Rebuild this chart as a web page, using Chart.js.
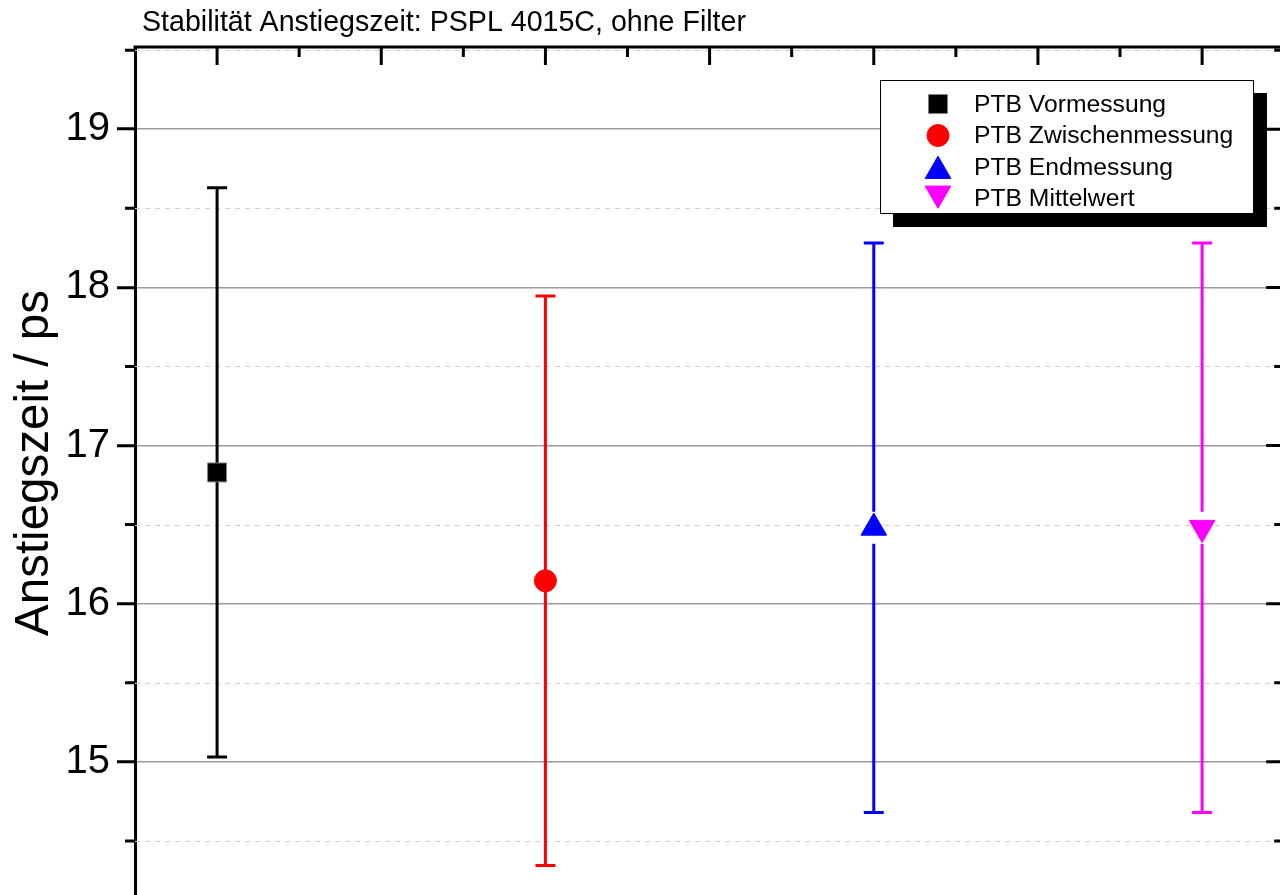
<!DOCTYPE html>
<html>
<head>
<meta charset="utf-8">
<title>Stabilität Anstiegszeit</title>
<script src="https://cdn.jsdelivr.net/npm/chart.js@4.4.0/dist/chart.umd.min.js"></script>
<style>
  html, body { margin: 0; padding: 0; overflow: hidden; background: #fff; }
  #chart { position: absolute; left: 0; top: 0; }
</style>
</head>
<body>
<canvas id="chart" width="1300" height="960"></canvas>
<script>
// data
const labels = ["PTB Vormessung", "PTB Zwischenmessung", "PTB Endmessung", "PTB Mittelwert"];
const positions = [1, 2, 3, 4];
const values = [16.83, 16.145, 16.48, 16.48];
const errors = [1.80, 1.80, 1.80, 1.80];

// ticks
const yMajorTicks = [15, 16, 17, 18, 19];
const yMinorTicks = [14.5, 15.5, 16.5, 17.5, 18.5, 19.5];
const xMajorTicks = [1, 1.5, 2, 2.5, 3, 3.5, 4];
const xMinorTicks = [1.25, 1.75, 2.25, 2.75, 3.25, 3.75];

// styles
const colors = ["#000000", "#ff0000", "#0000ff", "#ff00ff"];
const borders = ["#808080", "#ff0000", "#0000ff", "#ff00ff"];
const styles = ["rect", "circle", "triangle", "triangle"];
const rotations = [0, 0, 0, 180];
const radii = [13.4, 11, 14.8, 14.8];
const barGaps = [0, 0, 16, 16];

const FONT = '"Liberation Sans", Arial, sans-serif';

function drawMarker(ctx, i, x, y) {
  ctx.save();
  ctx.fillStyle = colors[i];
  ctx.strokeStyle = borders[i];
  ctx.lineWidth = 1;
  Chart.helpers.drawPoint(ctx, {
    pointStyle: styles[i], radius: radii[i], rotation: rotations[i], borderWidth: 1
  }, x, y);
  ctx.restore();
}

const decor = {
  id: "decor",
  beforeDatasetsDraw(chart) {
    const { ctx, chartArea: a, scales: { x, y } } = chart;
    // dashed minor grid
    ctx.save();
    ctx.strokeStyle = "#cfcfcf";
    ctx.lineWidth = 1;
    ctx.setLineDash([5, 5]);
    yMinorTicks.forEach(v => {
      const py = Math.round(y.getPixelForValue(v)) + 0.5;
      ctx.beginPath();
      ctx.moveTo(a.left, py);
      ctx.lineTo(a.right, py);
      ctx.stroke();
    });
    ctx.restore();

    // error bars
    ctx.save();
    ctx.lineWidth = 3;
    values.forEach((v, i) => {
      const px = x.getPixelForValue(positions[i]);
      const py = y.getPixelForValue(v);
      const top = y.getPixelForValue(v + errors[i]);
      const bot = y.getPixelForValue(v - errors[i]);
      const g = barGaps[i];
      ctx.strokeStyle = colors[i];
      ctx.beginPath();
      ctx.moveTo(px, top); ctx.lineTo(px, py - g);
      ctx.moveTo(px, py + g); ctx.lineTo(px, bot);
      ctx.moveTo(px - 10, top); ctx.lineTo(px + 10, top);
      ctx.moveTo(px - 10, bot); ctx.lineTo(px + 10, bot);
      ctx.stroke();
    });
    ctx.restore();
  },
  afterDraw(chart) {
    const { ctx, chartArea: a, scales: { x, y } } = chart;
    ctx.save();
    ctx.strokeStyle = "#000";
    ctx.lineWidth = 3;

    // top axis
    ctx.beginPath();
    ctx.moveTo(a.left - 1.5, a.top);
    ctx.lineTo(a.right + 1.5, a.top);
    xMajorTicks.forEach(v => {
      const px = x.getPixelForValue(v);
      ctx.moveTo(px, a.top); ctx.lineTo(px, a.top + 18);
    });
    xMinorTicks.forEach(v => {
      const px = x.getPixelForValue(v);
      ctx.moveTo(px, a.top); ctx.lineTo(px, a.top + 10);
    });
    // right axis
    ctx.moveTo(a.right, a.top);
    ctx.lineTo(a.right, a.bottom);
    yMajorTicks.forEach(v => {
      const py = y.getPixelForValue(v);
      ctx.moveTo(a.right, py); ctx.lineTo(a.right - 18, py);
    });
    // minor ticks left / right
    yMinorTicks.forEach(v => {
      const py = y.getPixelForValue(v);
      ctx.moveTo(a.left, py); ctx.lineTo(a.left - 10, py);
      ctx.moveTo(a.right, py); ctx.lineTo(a.right - 10, py);
    });
    ctx.stroke();

    // legend box with shadow
    ctx.fillStyle = "#000";
    ctx.fillRect(893, 93, 374, 134);
    ctx.fillStyle = "#fff";
    ctx.fillRect(880, 80, 374, 134);
    ctx.lineWidth = 1;
    ctx.strokeRect(880.5, 80.5, 373, 133);

    ctx.font = "24.7px " + FONT;
    ctx.textBaseline = "middle";
    ctx.textAlign = "left";
    labels.forEach((t, i) => {
      const ry = 104 + i * 31.5;
      const my = styles[i] === "triangle" ? (rotations[i] ? ry - 5 : ry + 4) : ry;
      drawMarker(ctx, i, 938, my);
      ctx.fillStyle = "#000";
      ctx.fillText(t, 974, ry + 1);
    });

    // title
    ctx.font = "28.6px " + FONT;
    ctx.textBaseline = "alphabetic";
    ctx.fillText("Stabilität Anstiegszeit: PSPL 4015C, ohne Filter", 142, 31);

    // y axis title
    ctx.translate(48, 463);
    ctx.rotate(-Math.PI / 2);
    ctx.font = "47.5px " + FONT;
    ctx.textAlign = "center";
    ctx.fillText("Anstiegszeit / ps", 0, 0);
    ctx.restore();
  }
};

new Chart(document.getElementById("chart"), {
  type: "scatter",
  data: {
    datasets: labels.map((l, i) => ({
      label: l,
      data: [{ x: positions[i], y: values[i] }],
      pointStyle: styles[i],
      rotation: rotations[i],
      pointRadius: radii[i],
      pointHoverRadius: radii[i],
      backgroundColor: colors[i],
      borderColor: borders[i],
      borderWidth: 1
    }))
  },
  options: {
    responsive: false,
    animation: false,
    devicePixelRatio: 1,
    layout: { padding: { left: 0, top: 47, right: 9, bottom: 40 } },
    plugins: { legend: { display: false }, tooltip: { enabled: false } },
    scales: {
      x: {
        type: "linear", min: 0.75, max: 4.25, display: false,
        ticks: { display: false }, grid: { display: false }
      },
      y: {
        type: "linear",
        min: 14,
        max: 19.52,
        afterFit: s => { s.width = 135; },
        ticks: {
          stepSize: 1,
          includeBounds: false,
          color: "#000",
          padding: 7,
          font: { family: FONT, size: 40 }
        },
        grid: {
          color: "#9a9a9a",
          lineWidth: 1.5,
          tickLength: 18,
          tickWidth: 3,
          tickColor: "#000"
        },
        border: { color: "#000", width: 3 }
      }
    }
  },
  plugins: [decor]
});
</script>
</body>
</html>
